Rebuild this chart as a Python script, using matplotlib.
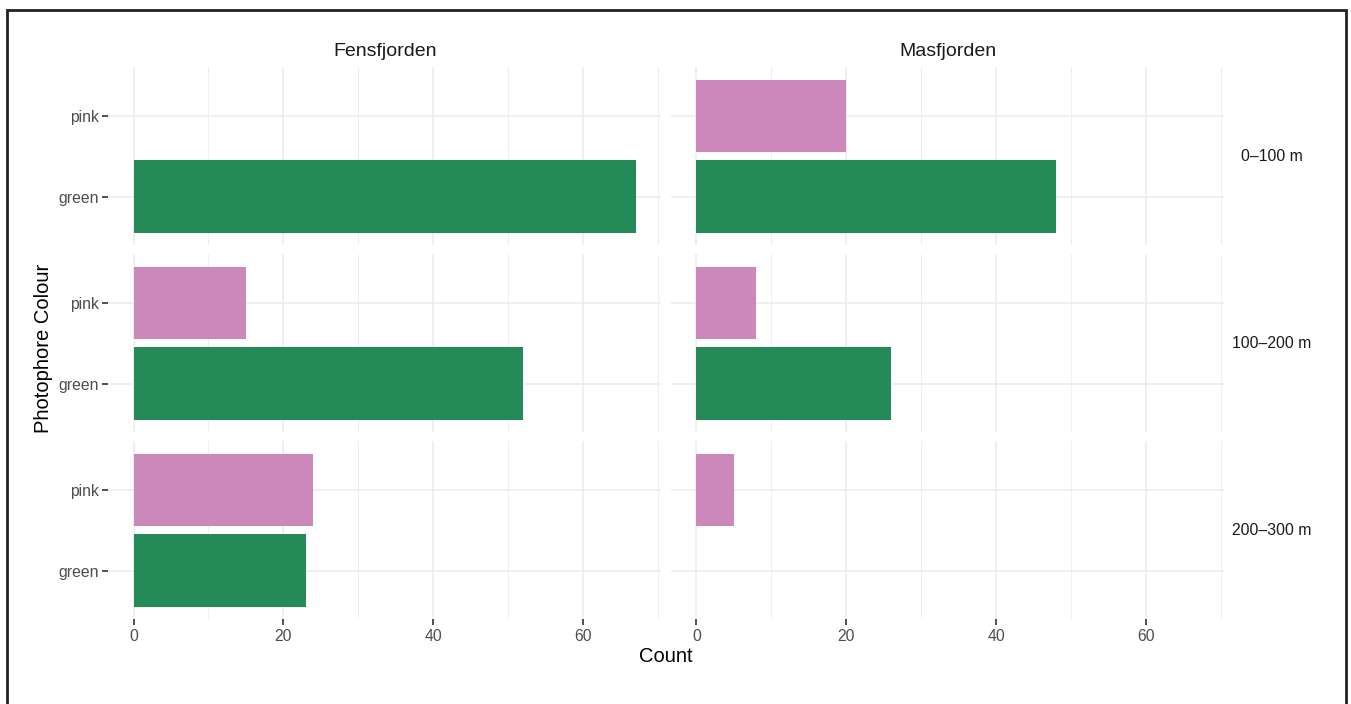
import matplotlib
matplotlib.use("Agg")
import matplotlib.pyplot as plt
from matplotlib.patches import Rectangle

plt.rcParams['font.family'] = ['Liberation Sans', 'DejaVu Sans']

# Data
fjords = ["Fensfjorden", "Masfjorden"]
depths = ["0–100 m", "100–200 m", "200–300 m"]
colours = ["green", "pink"]
fens_green = [67, 52, 23]
fens_pink = [0, 15, 24]
mas_green = [48, 26, 0]
mas_pink = [20, 8, 5]
x_ticks = [0, 20, 40, 60]
x_minor = [10, 30, 50, 70]

counts = {
    "Fensfjorden": {"green": fens_green, "pink": fens_pink},
    "Masfjorden": {"green": mas_green, "pink": mas_pink},
}
fill = {"green": "#248A57", "pink": "#CC88BB"}

W, H = 1351, 704
fig = plt.figure(figsize=(W / 100, H / 100), dpi=100)
fig.patch.set_facecolor("white")

col_left = [108.4, 671.3]
col_width = 552.6
row_top = [67.4, 254.4, 441.4]
row_height = 178.0

grid_col = "#EBEBEB"
text_col = "#4D4D4D"

for r, depth in enumerate(depths):
    for c, fjord in enumerate(fjords):
        ax = fig.add_axes([col_left[c] / W, 1 - (row_top[r] + row_height) / H,
                           col_width / W, row_height / H])
        ax.set_facecolor("white")
        for s in ax.spines.values():
            s.set_visible(False)
        ax.set_xlim(-3.35, 70.35)
        ax.set_ylim(0.4, 2.6)
        ax.set_xticks(x_ticks)
        ax.set_xticks(x_minor, minor=True)
        ax.set_yticks([1, 2])
        ax.grid(True, which="major", color=grid_col, linewidth=1.1, zorder=0)
        ax.grid(True, which="minor", axis="x", color=grid_col, linewidth=0.55, zorder=0)
        ax.set_axisbelow(True)

        for i, colour in enumerate(colours):
            ax.barh(i + 1, counts[fjord][colour][r], height=0.9,
                    color=fill[colour], linewidth=0, zorder=2)

        ax.tick_params(which="minor", length=0)
        ax.tick_params(which="major", length=4, width=1.2, color="#333333",
                       labelsize=11.3, labelcolor=text_col, pad=3)
        if c == 0:
            ax.set_yticklabels(colours)
        else:
            ax.tick_params(axis="y", length=0, labelleft=False)
        if r == len(depths) - 1:
            ax.set_xticklabels([str(t) for t in x_ticks])
        else:
            ax.tick_params(axis="x", length=0, labelbottom=False)

        if r == 0:
            fig.text((col_left[c] + col_width / 2) / W, 1 - 52 / H, fjord,
                     fontsize=14, color="#1A1A1A", ha="center", va="center")
        if c == len(fjords) - 1:
            fig.text(1272 / W, 1 - (row_top[r] + row_height / 2) / H, depth,
                     fontsize=11.3, color="#1A1A1A", ha="center", va="center")

fig.text((108.4 + 671.3 + col_width) / 2 / W, 1 - 656 / H, "Count",
         fontsize=14.5, color="black", ha="center", va="center")
fig.text(44 / W, 1 - 348 / H, "Photophore Colour", rotation=90,
         fontsize=14.5, color="black", ha="center", va="center")

# Outer frame
fig.add_artist(Rectangle((7 / W, -0.05), (1346 - 7) / W, 1.05 - 10 / H,
                         transform=fig.transFigure, fill=False,
                         edgecolor="#222222", linewidth=2))

fig.savefig("out.png", dpi=100)
